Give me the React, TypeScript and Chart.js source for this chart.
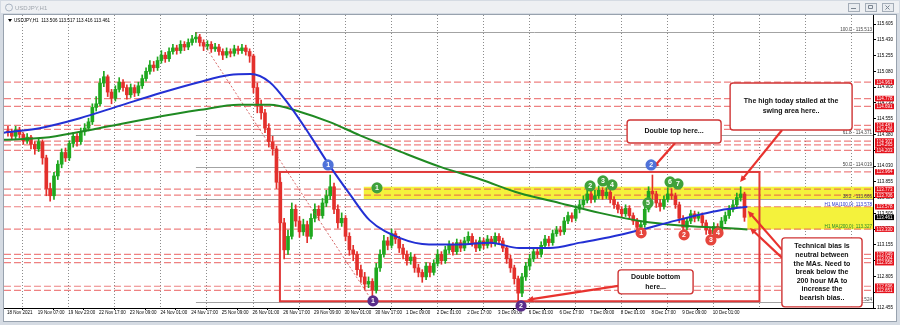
import React, { useEffect, useRef } from 'react';
import { Chart, registerables } from 'chart.js';

Chart.register(...registerables);

// ---------------- data ----------------
const symbolTitle = 'USDJPY,H1';
const lastBarOHLC = [113.506, 113.517, 113.416, 113.461];

const timeLabels = ['18 Nov 2021', '19 Nov 07:00', '19 Nov 23:00', '22 Nov 17:00', '23 Nov 09:00', '24 Nov 01:00', '24 Nov 17:00', '25 Nov 09:00', '26 Nov 01:00', '26 Nov 17:00', '29 Nov 09:00', '30 Nov 01:00', '30 Nov 17:00', '1 Dec 09:00', '2 Dec 01:00', '2 Dec 17:00', '3 Dec 09:00', '6 Dec 01:00', '6 Dec 17:00', '7 Dec 09:00', '8 Dec 01:00', '8 Dec 17:00', '9 Dec 09:00', '10 Dec 01:00'];
const HOURS_PER_LABEL = 16;
const HOURS_PER_BAR = 2;
const gridHours = [8, 32, 56, 80, 104, 128, 152, 176, 200, 224, 248, 272, 296, 320, 344, 368, 392, 416, 440];
const priceTicks = [115.605, 115.43, 115.255, 115.08, 114.905, 114.73, 114.555, 114.38, 114.205, 114.03, 113.855, 113.68, 113.505, 113.33, 113.155, 112.98, 112.805, 112.63, 112.455];

const firstOpen = 114.42;
const closes = [
  114.40, 114.36, 114.43, 114.38, 114.31, 114.35, 114.27, 114.22, 114.30, 114.12,
  113.78, 113.70, 113.92, 114.05, 114.18, 114.12, 114.28, 114.36, 114.30, 114.41,
  114.45, 114.52, 114.68, 114.72, 114.95, 115.02, 114.85, 114.78, 114.88, 114.96,
  114.90, 114.82, 114.90, 114.84, 114.92, 115.00, 115.08, 115.15, 115.12, 115.20,
  115.26, 115.22, 115.30, 115.34, 115.31, 115.38, 115.35, 115.40, 115.44, 115.46,
  115.40, 115.36, 115.38, 115.33, 115.35, 115.30, 115.26, 115.30, 115.28, 115.33,
  115.31, 115.34, 115.30, 115.25, 114.90, 114.70, 114.62, 114.45, 114.30, 114.22,
  113.85, 113.40, 113.10, 113.25, 113.55, 113.42, 113.30, 113.38, 113.25, 113.45,
  113.55, 113.48, 113.62, 113.70, 113.80, 113.55, 113.40, 113.45, 113.25, 113.10,
  113.05, 112.88, 112.80, 112.72, 112.75, 112.65, 112.90, 113.05, 113.20, 113.15,
  113.28, 113.22, 113.12, 113.05, 112.98, 113.02, 112.90, 112.85, 112.80, 112.92,
  112.85, 112.95, 113.05, 112.98, 113.10, 113.15, 113.08, 113.18, 113.12, 113.20,
  113.25, 113.18, 113.12, 113.20, 113.15, 113.22, 113.17, 113.25, 113.20, 113.12,
  113.00, 112.90, 112.78, 112.62, 112.80, 112.92, 113.00, 113.08, 113.05, 113.15,
  113.22, 113.18, 113.28, 113.32, 113.30, 113.42, 113.48, 113.45, 113.55, 113.60,
  113.65, 113.72, 113.66, 113.70, 113.76, 113.70, 113.74, 113.66, 113.60, 113.55,
  113.50, 113.56, 113.48, 113.42, 113.35, 113.38, 113.55, 113.75, 113.72, 113.62,
  113.58, 113.66, 113.72, 113.70, 113.60, 113.45, 113.35, 113.42, 113.50, 113.45,
  113.48, 113.40, 113.32, 113.28, 113.36, 113.32, 113.42, 113.48, 113.55, 113.60,
  113.68, 113.72, 113.461,
];
const highs = [
  114.47, 114.44, 114.47, 114.46, 114.40, 114.39, 114.37, 114.30, 114.34, 114.32,
  114.15, 113.84, 113.96, 114.09, 114.22, 114.23, 114.31, 114.40, 114.39, 114.45,
  114.50, 114.56, 114.72, 114.80, 115.00, 115.08, 115.04, 114.88, 114.92, 115.01,
  114.99, 114.93, 114.94, 114.93, 114.96, 115.04, 115.12, 115.20, 115.19, 115.24,
  115.31, 115.29, 115.34, 115.38, 115.37, 115.42, 115.41, 115.44, 115.48, 115.513,
  115.49, 115.43, 115.42, 115.41, 115.39, 115.38, 115.33, 115.34, 115.33, 115.37,
  115.36, 115.38, 115.37, 115.33, 115.27, 114.95, 114.76, 114.66, 114.50, 114.36,
  114.25, 113.90, 113.45, 113.32, 113.62, 113.60, 113.47, 113.44, 113.42, 113.50,
  113.61, 113.59, 113.67, 113.76, 113.93, 113.84, 113.60, 113.51, 113.48, 113.29,
  113.15, 113.08, 112.93, 112.85, 112.80, 112.78, 112.95, 113.10, 113.26, 113.24,
  113.33, 113.31, 113.25, 113.16, 113.09, 113.07, 113.05, 112.94, 112.88, 112.96,
  112.95, 112.99, 113.10, 113.08, 113.14, 113.20, 113.18, 113.22, 113.21, 113.24,
  113.30, 113.28, 113.21, 113.24, 113.23, 113.26, 113.25, 113.29, 113.28, 113.23,
  113.15, 113.04, 112.93, 112.81, 112.84, 112.96, 113.05, 113.12, 113.11, 113.19,
  113.26, 113.25, 113.32, 113.36, 113.36, 113.46, 113.52, 113.51, 113.59, 113.65,
  113.70, 113.78, 113.75, 113.76, 113.81, 113.79, 113.79, 113.77, 113.69, 113.63,
  113.58, 113.60, 113.59, 113.51, 113.45, 113.42, 113.60, 113.80, 113.93, 113.75,
  113.66, 113.70, 113.79, 113.78, 113.73, 113.63, 113.48, 113.46, 113.54, 113.53,
  113.52, 113.51, 113.43, 113.35, 113.40, 113.39, 113.46, 113.52, 113.59, 113.65,
  113.73, 113.80, 113.74,
];
const lows = [
  114.36, 114.32, 114.33, 114.34, 114.27, 114.28, 114.22, 114.16, 114.19, 114.05,
  113.70, 113.64, 113.66, 113.88, 114.01, 114.08, 114.09, 114.24, 114.25, 114.27,
  114.37, 114.42, 114.49, 114.64, 114.70, 114.91, 114.80, 114.72, 114.75, 114.85,
  114.86, 114.77, 114.79, 114.80, 114.81, 114.89, 114.97, 115.05, 115.08, 115.09,
  115.17, 115.18, 115.19, 115.27, 115.27, 115.28, 115.31, 115.32, 115.37, 115.40,
  115.36, 115.31, 115.32, 115.29, 115.30, 115.26, 115.21, 115.23, 115.24, 115.25,
  115.27, 115.28, 115.26, 115.18, 114.84, 114.62, 114.55, 114.40, 114.24, 114.15,
  113.78, 113.32, 113.00, 113.05, 113.22, 113.36, 113.24, 113.26, 113.18, 113.22,
  113.41, 113.43, 113.45, 113.58, 113.66, 113.50, 113.34, 113.36, 113.20, 113.04,
  112.98, 112.82, 112.74, 112.66, 112.68, 112.53, 112.62, 112.86, 113.02, 113.10,
  113.12, 113.17, 113.07, 113.00, 112.93, 112.94, 112.85, 112.80, 112.74, 112.77,
  112.80, 112.82, 112.92, 112.94, 112.95, 113.06, 113.04, 113.05, 113.08, 113.09,
  113.16, 113.14, 113.08, 113.09, 113.11, 113.12, 113.13, 113.14, 113.16, 113.08,
  112.95, 112.85, 112.72, 112.53, 112.58, 112.76, 112.88, 112.97, 113.01, 113.02,
  113.12, 113.14, 113.15, 113.25, 113.26, 113.27, 113.39, 113.41, 113.42, 113.51,
  113.57, 113.62, 113.62, 113.63, 113.67, 113.66, 113.67, 113.62, 113.56, 113.51,
  113.46, 113.47, 113.44, 113.38, 113.30, 113.29, 113.35, 113.52, 113.66, 113.57,
  113.53, 113.55, 113.63, 113.66, 113.56, 113.40, 113.30, 113.32, 113.39, 113.41,
  113.42, 113.36, 113.27, 113.23, 113.25, 113.29, 113.30, 113.39, 113.45, 113.52,
  113.57, 113.64, 113.416,
];

const ma100Hours = [-1.6, 17, 38, 59, 80, 100, 116, 127, 137, 147, 158, 168, 179, 189, 205, 220, 236, 252, 267, 283, 299, 314, 330, 346, 361, 372, 386];
const ma100Values = [114.40, 114.45, 114.56, 114.70, 114.84, 114.96, 115.04, 115.05, 114.96, 114.71, 114.37, 114.04, 113.71, 113.43, 113.23, 113.16, 113.16, 113.18, 113.12, 113.12, 113.18, 113.24, 113.32, 113.41, 113.49, 113.54, 113.578];
const ma200Hours = [-1.6, 22, 48, 75, 100, 121, 137, 153, 168, 184, 205, 226, 247, 267, 288, 309, 330, 351, 372, 386];
const ma200Values = [114.32, 114.35, 114.45, 114.56, 114.65, 114.71, 114.71, 114.63, 114.52, 114.37, 114.19, 114.02, 113.88, 113.73, 113.62, 113.51, 113.42, 113.37, 113.345, 113.327];

const levelPrices = [114.961, 114.778, 114.691, 114.481, 114.436, 114.307, 114.265, 114.203, 113.964, 113.773, 113.706, 113.578, 113.330, 113.049, 113.004, 112.958, 112.696, 112.651];
const fibRatios = ['100.0', '61.8', '50.0', '38.2', '0.0'];
const fibPrices = [115.513, 114.371, 114.019, 113.666, 112.524];
const currentPrice = 113.461;
const ma100Last = 113.578;
const ma200Last = 113.327;

// ---------------- annotation layout (data units: hour index, price) ----------------
const upperZone = { h1: 186, h2: 452, p1: 113.655, p2: 113.8 };
const lowerZone = { h1: 386, h2: 452, p1: 113.327, p2: 113.578 };
const rangeBox = { h1: 142.3, h2: 392.3, p1: 112.53, p2: 113.964 };
const callouts = [
  { h1: 377, h2: 440.6, p1: 114.951, p2: 114.43, lines: ['The high today stalled at the', 'swing area here..'] },
  { h1: 323.3, h2: 372.3, p1: 114.541, p2: 114.286, lines: ['Double top here...'] },
  { h1: 318.6, h2: 357.7, p1: 112.878, p2: 112.612, lines: ['Double bottom', 'here...'] },
  { h1: 404, h2: 445.8, p1: 113.233, p2: 112.468, lines: ['Technical bias is', 'neutral between', 'the MAs. Need to', 'break below the', '200 hour MA to', 'increase the', 'bearish bias..'] },
];
const arrows = [
  [404.1, 114.43, 382.2, 113.853],
  [348.3, 114.286, 336.8, 114.009],
  [318.6, 112.7, 271.1, 112.545],
  [404.1, 113.1, 386.3, 113.532],
  [404.1, 113.011, 387.4, 113.343],
];
const markers = [
  { h: 167.4, p: 114.042, n: '1', c: '#4f72d9' },
  { h: 335.8, p: 114.042, n: '2', c: '#4f72d9' },
  { h: 190.8, p: 112.534, n: '1', c: '#5a2d8a' },
  { h: 268.0, p: 112.478, n: '2', c: '#5a2d8a' },
  { h: 192.9, p: 113.787, n: '1', c: '#3fa13c' },
  { h: 304.0, p: 113.809, n: '2', c: '#3fa13c' },
  { h: 310.7, p: 113.864, n: '3', c: '#3fa13c' },
  { h: 315.4, p: 113.82, n: '4', c: '#3fa13c' },
  { h: 334.2, p: 113.62, n: '5', c: '#3fa13c' },
  { h: 345.7, p: 113.853, n: '6', c: '#3fa13c' },
  { h: 349.8, p: 113.831, n: '7', c: '#3fa13c' },
  { h: 330.6, p: 113.288, n: '1', c: '#e6463d' },
  { h: 353.0, p: 113.266, n: '2', c: '#e6463d' },
  { h: 367.0, p: 113.21, n: '3', c: '#e6463d' },
  { h: 370.7, p: 113.288, n: '4', c: '#e6463d' },
];

const UP = '#1fa81f';
const DOWN = '#e3302c';
const SMALL = '"Liberation Sans", Arial, sans-serif';

function drawArrow(ctx: CanvasRenderingContext2D, x1: number, y1: number, x2: number, y2: number) {
  const ang = Math.atan2(y2 - y1, x2 - x1);
  const hl = 7;
  ctx.beginPath();
  ctx.moveTo(x1, y1);
  ctx.lineTo(x2 - Math.cos(ang) * hl * 0.7, y2 - Math.sin(ang) * hl * 0.7);
  ctx.stroke();
  ctx.beginPath();
  ctx.moveTo(x2, y2);
  ctx.lineTo(x2 - hl * Math.cos(ang - 0.45), y2 - hl * Math.sin(ang - 0.45));
  ctx.lineTo(x2 - hl * Math.cos(ang + 0.45), y2 - hl * Math.sin(ang + 0.45));
  ctx.closePath();
  ctx.fill();
}

const overlayPlugin = {
  id: 'mt4Overlay',
  beforeDraw(chart: any) {
    const { ctx, width, height } = chart;
    ctx.save();
    ctx.fillStyle = '#d5dbe3';
    ctx.fillRect(0, 0, width, height);
    ctx.fillStyle = '#eef0f3';
    ctx.fillRect(1, 1, width - 2, 12);
    ctx.fillStyle = '#ffffff';
    ctx.fillRect(4, 15, 893, 307);
    ctx.strokeStyle = '#98a2ae';
    ctx.lineWidth = 1;
    ctx.strokeRect(3.5, 14.5, 893, 307);
    ctx.strokeStyle = '#a9b4c2';
    ctx.beginPath();
    ctx.arc(9, 7.5, 3.5, 0, Math.PI * 2);
    ctx.stroke();
    ctx.fillStyle = '#a0a6ae';
    ctx.font = `6px ${SMALL}`;
    ctx.textBaseline = 'middle';
    ctx.textAlign = 'left';
    ctx.fillText(symbolTitle, 15, 8);
    [848, 865, 882].forEach((bx, i) => {
      ctx.fillStyle = '#e9ecf0';
      ctx.fillRect(bx, 3, 11, 8);
      ctx.strokeStyle = '#a4adb8';
      ctx.strokeRect(bx + 0.5, 3.5, 11, 8);
      ctx.strokeStyle = '#7b8591';
      ctx.beginPath();
      if (i === 0) { ctx.moveTo(bx + 3, 8.5); ctx.lineTo(bx + 8, 8.5); }
      else if (i === 1) { ctx.rect(bx + 3.5, 5.5, 4, 3); }
      else { ctx.moveTo(bx + 3.5, 5.5); ctx.lineTo(bx + 7.5, 9.5); ctx.moveTo(bx + 7.5, 5.5); ctx.lineTo(bx + 3.5, 9.5); }
      ctx.stroke();
    });
    ctx.restore();
  },
  beforeDatasetsDraw(chart: any) {
    const { ctx, chartArea } = chart;
    const xs = chart.scales.x;
    const ys = chart.scales.y;
    const X = (h: number) => xs.getPixelForValue(h);
    const Y = (p: number) => ys.getPixelForValue(p);
    const { left, right, top, bottom } = chartArea;
    ctx.save();
    ctx.beginPath();
    ctx.rect(left, top, right - left, bottom - top);
    ctx.clip();
    ctx.strokeStyle = '#8c8c8c';
    ctx.lineWidth = 1;
    ctx.setLineDash([1, 2]);
    gridHours.forEach((h) => {
      const x = Math.round(X(h)) + 0.5;
      ctx.beginPath();
      ctx.moveTo(x, top);
      ctx.lineTo(x, bottom);
      ctx.stroke();
    });
    ctx.setLineDash([]);
    ctx.fillStyle = '#f4f23c';
    [upperZone, lowerZone].forEach((z) => {
      ctx.fillRect(X(z.h1), Y(z.p2), X(z.h2) - X(z.h1), Y(z.p1) - Y(z.p2));
    });
    const fibStart = X(highs.indexOf(Math.max(...highs)) * HOURS_PER_BAR + 0.5);
    ctx.strokeStyle = '#a3a3a3';
    ctx.lineWidth = 1;
    fibPrices.forEach((p) => {
      const y = Math.round(Y(p)) + 0.5;
      ctx.beginPath();
      ctx.moveTo(fibStart, y);
      ctx.lineTo(right, y);
      ctx.stroke();
    });
    ctx.strokeStyle = 'rgba(232,80,80,0.72)';
    ctx.lineWidth = 1.2;
    ctx.setLineDash([7, 3]);
    levelPrices.forEach((p) => {
      const y = Y(p);
      ctx.beginPath();
      ctx.moveTo(left, y);
      ctx.lineTo(right, y);
      ctx.stroke();
    });
    ctx.setLineDash([]);
    ctx.strokeStyle = '#e03a3a';
    ctx.lineWidth = 2;
    ctx.strokeRect(X(rangeBox.h1), Y(rangeBox.p2), X(rangeBox.h2) - X(rangeBox.h1), Y(rangeBox.p1) - Y(rangeBox.p2));
    ctx.restore();
  },
  afterDatasetsDraw(chart: any) {
    const { ctx, chartArea } = chart;
    const xs = chart.scales.x;
    const ys = chart.scales.y;
    const X = (h: number) => xs.getPixelForValue(h);
    const Y = (p: number) => ys.getPixelForValue(p);
    const { left, right } = chartArea;
    ctx.save();
    ctx.font = `4.6px ${SMALL}`;
    ctx.textAlign = 'right';
    ctx.textBaseline = 'bottom';
    ctx.fillStyle = '#444';
    fibPrices.forEach((p, i) => {
      ctx.fillText(`${fibRatios[i]} - ${p.toFixed(3)}`, right - 1, Y(p));
    });
    ctx.fillStyle = '#2a34c8';
    ctx.fillText(`H1 MA(100,0): ${ma100Last.toFixed(3)}`, right - 1, Y(ma100Last));
    ctx.fillStyle = '#23872a';
    ctx.fillText(`H1 MA(200,0): ${ma200Last.toFixed(3)}`, right - 1, Y(ma200Last));
    ctx.fillStyle = '#000';
    ctx.textAlign = 'left';
    ctx.textBaseline = 'middle';
    ctx.beginPath();
    ctx.moveTo(left + 4, 19);
    ctx.lineTo(left + 8, 19);
    ctx.lineTo(left + 6, 22);
    ctx.closePath();
    ctx.fill();
    ctx.fillText(`${symbolTitle}  ${lastBarOHLC.map((v) => v.toFixed(3)).join(' ')}`, left + 10, 20.5);
    ctx.strokeStyle = '#e8322e';
    ctx.fillStyle = '#e8322e';
    ctx.lineWidth = 2.2;
    arrows.forEach((a) => drawArrow(ctx, X(a[0]), Y(a[1]), X(a[2]), Y(a[3])));
    callouts.forEach((c) => {
      const x1 = X(c.h1), x2 = X(c.h2), y1 = Y(c.p1), y2 = Y(c.p2);
      ctx.fillStyle = '#ffffff';
      ctx.strokeStyle = '#cf3434';
      ctx.lineWidth = 1.4;
      ctx.beginPath();
      ctx.roundRect(x1, y1, x2 - x1, y2 - y1, 3);
      ctx.fill();
      ctx.stroke();
      ctx.fillStyle = '#111';
      ctx.font = `bold 7px ${SMALL}`;
      ctx.textAlign = 'center';
      ctx.textBaseline = 'middle';
      const lh = c.lines.length > 2 ? 8.6 : 10;
      const cy = (y1 + y2) / 2;
      c.lines.forEach((t, i) => {
        ctx.fillText(t, (x1 + x2) / 2, cy + (i - (c.lines.length - 1) / 2) * lh);
      });
    });
    markers.forEach((m) => {
      const x = X(m.h), y = Y(m.p);
      ctx.fillStyle = m.c;
      ctx.beginPath();
      ctx.arc(x, y, 5.6, 0, Math.PI * 2);
      ctx.fill();
      ctx.fillStyle = '#fff';
      ctx.font = `bold 7px ${SMALL}`;
      ctx.textAlign = 'center';
      ctx.textBaseline = 'middle';
      ctx.fillText(m.n, x, y + 0.5);
    });
    ctx.restore();
  },
  afterDraw(chart: any) {
    const { ctx, chartArea } = chart;
    const ys = chart.scales.y;
    const Y = (p: number) => ys.getPixelForValue(p);
    const r = chartArea.right;
    ctx.save();
    ctx.font = `4.5px ${SMALL}`;
    ctx.textAlign = 'left';
    ctx.textBaseline = 'middle';
    const tag = (p: number, bg: string) => {
      const y = Y(p);
      ctx.fillStyle = bg;
      ctx.fillRect(r + 2, y - 2.8, 19, 5.6);
      ctx.fillStyle = '#fff';
      ctx.fillText(p.toFixed(3), r + 3.5, y + 0.3);
    };
    levelPrices.forEach((p) => tag(p, '#e5121c'));
    tag(currentPrice, '#000');
    ctx.restore();
  },
};

export default function App() {
  const ref = useRef<HTMLCanvasElement | null>(null);
  useEffect(() => {
    const canvas = ref.current;
    if (!canvas) return;
    const opens = closes.map((c, j) => (j === 0 ? firstOpen : closes[j - 1]));
    const barX = closes.map((_, j) => j * HOURS_PER_BAR + 0.5);
    const colors = closes.map((c, j) => (c >= opens[j] ? UP : DOWN));
    const hiIdx = highs.indexOf(Math.max(...highs));
    const loIdx = lows.indexOf(Math.min(...lows));
    const chart = new Chart(canvas, {
      type: 'bar',
      data: {
        datasets: [
          {
            type: 'line',
            data: ma100Hours.map((h, i) => ({ x: h, y: ma100Values[i] })),
            borderColor: '#2330d4',
            borderWidth: 2,
            pointRadius: 0,
            cubicInterpolationMode: 'monotone',
            order: 0,
          } as any,
          {
            type: 'line',
            data: ma200Hours.map((h, i) => ({ x: h, y: ma200Values[i] })),
            borderColor: '#1f8a22',
            borderWidth: 2,
            pointRadius: 0,
            cubicInterpolationMode: 'monotone',
            order: 1,
          } as any,
          {
            type: 'line',
            data: [
              { x: barX[hiIdx], y: highs[hiIdx] },
              { x: barX[loIdx], y: lows[loIdx] },
            ],
            borderColor: 'rgba(205,70,70,0.8)',
            borderDash: [2, 2],
            borderWidth: 1,
            pointRadius: 0,
            order: 2,
          } as any,
          {
            type: 'bar',
            data: closes.map((c, j) => ({ x: barX[j], y: [opens[j], c] })),
            backgroundColor: colors,
            barThickness: 3,
            minBarLength: 1,
            grouped: false,
            order: 3,
          } as any,
          {
            type: 'bar',
            data: closes.map((_, j) => ({ x: barX[j], y: [lows[j], highs[j]] })),
            backgroundColor: colors,
            barThickness: 1,
            grouped: false,
            order: 4,
          } as any,
        ],
      },
      options: {
        animation: false,
        responsive: false,
        events: [],
        layout: { padding: { left: 4, top: 15, right: 5, bottom: 7 } },
        plugins: { legend: { display: false }, tooltip: { enabled: false } },
        scales: {
          x: {
            type: 'linear',
            min: -1.56,
            max: 451.5,
            offset: false,
            afterBuildTicks: (s: any) => {
              s.ticks = timeLabels.map((_, i) => ({ value: i * HOURS_PER_LABEL }));
            },
            afterFit: (s: any) => { s.height = 10; },
            ticks: {
              autoSkip: false,
              maxRotation: 0,
              align: 'start',
              padding: 0,
              color: '#000',
              font: { size: 4.5, family: SMALL },
              callback: (_v: any, i: number) => timeLabels[i],
            },
            grid: { drawOnChartArea: false, tickLength: 2, color: '#000' },
            border: { color: '#000' },
          } as any,
          y: {
            position: 'right',
            min: 112.455,
            max: 115.705,
            afterBuildTicks: (s: any) => {
              s.ticks = priceTicks.map((v) => ({ value: v }));
            },
            afterFit: (s: any) => { s.width = 22; },
            ticks: {
              autoSkip: false,
              padding: 1,
              color: '#000',
              font: { size: 4.5, family: SMALL },
              callback: (v: any) => Number(v).toFixed(3),
            },
            grid: { drawOnChartArea: false, tickLength: 3, color: '#000' },
            border: { color: '#000' },
          } as any,
        },
      },
      plugins: [overlayPlugin],
    });
    return () => chart.destroy();
  }, []);
  return (
    <div style={{ position: 'absolute', left: 0, top: 0, width: 900, height: 325 }}>
      <canvas ref={ref} width={900} height={325} style={{ display: 'block' }} />
    </div>
  );
}
